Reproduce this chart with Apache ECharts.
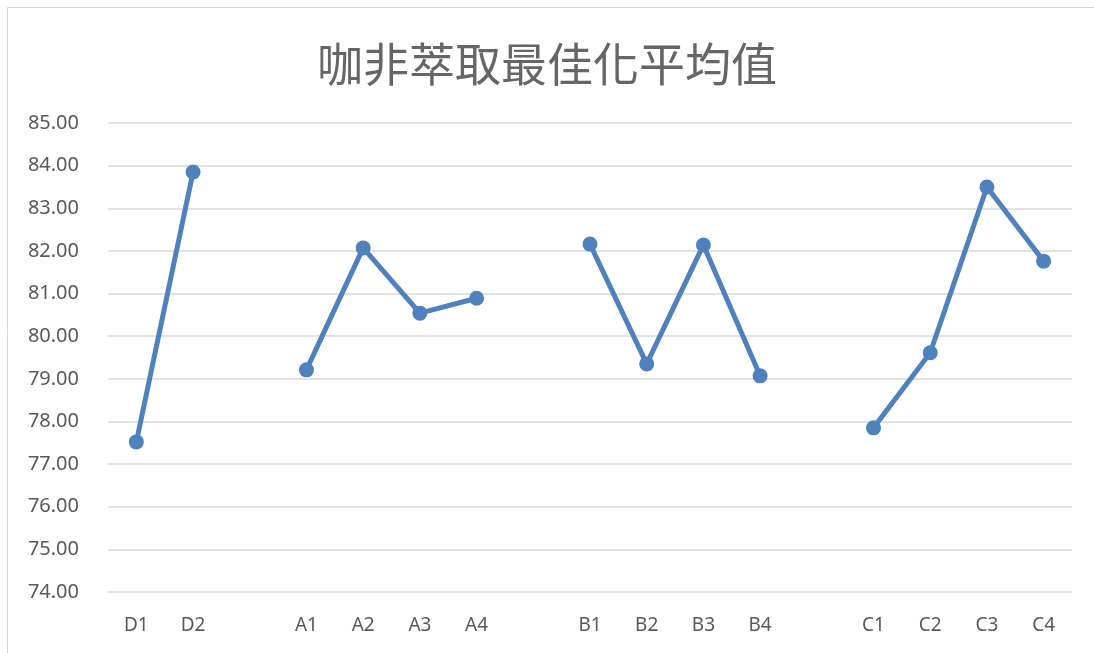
<!DOCTYPE html>
<html><head><meta charset="utf-8">
<script src="https://cdn.jsdelivr.net/npm/echarts@6/dist/echarts.min.js"></script>
<style>html,body{margin:0;padding:0;background:#fff}#c{width:1094px;height:653px}</style>
</head><body><div id="c"></div>
<script>
const titleText = '咖非萃取最佳化平均值';
const categories = ['D1','D2','','A1','A2','A3','A4','','B1','B2','B3','B4','','C1','C2','C3','C4'];
const values = [77.52,83.85,null,79.21,82.07,80.54,80.89,null,82.16,79.35,82.14,79.07,null,77.85,79.61,83.50,81.76];
const yMin = 74, yMax = 85, yStep = 1;

const chart = echarts.init(document.getElementById('c'));
chart.setOption({
  animation:false,
  backgroundColor:'#fff',
  graphic:[{type:'rect',shape:{x:7.5,y:7.5,width:1200,height:1000},style:{fill:'none',stroke:'#d9d9d9',lineWidth:1}}],
  title:{text:titleText,left:'center',top:36,textStyle:{fontFamily:'Noto Sans CJK TC',fontSize:46,fontWeight:'normal',color:'#666666'}},
  grid:{left:108,right:22,top:123,bottom:61},
  xAxis:{type:'category',data:categories,boundaryGap:true,
    axisLine:{show:false},axisTick:{show:false},
    axisLabel:{color:'#595959',fontFamily:'Noto Sans',fontSize:19,margin:24,interval:0}},
  yAxis:{type:'value',min:yMin,max:yMax,interval:yStep,
    axisLine:{show:false},axisTick:{show:false},
    axisLabel:{color:'#595959',fontFamily:'Noto Sans',fontSize:20,margin:29,formatter:v=>v.toFixed(2)},
    splitLine:{lineStyle:{color:'#d9d9d9',width:1.5}}},
  series:[{type:'line',data:values,connectNulls:false,symbol:'circle',symbolSize:15,
    lineStyle:{color:'#4f81bd',width:5},itemStyle:{color:'#4f81bd'}}]
});
</script></body></html>
